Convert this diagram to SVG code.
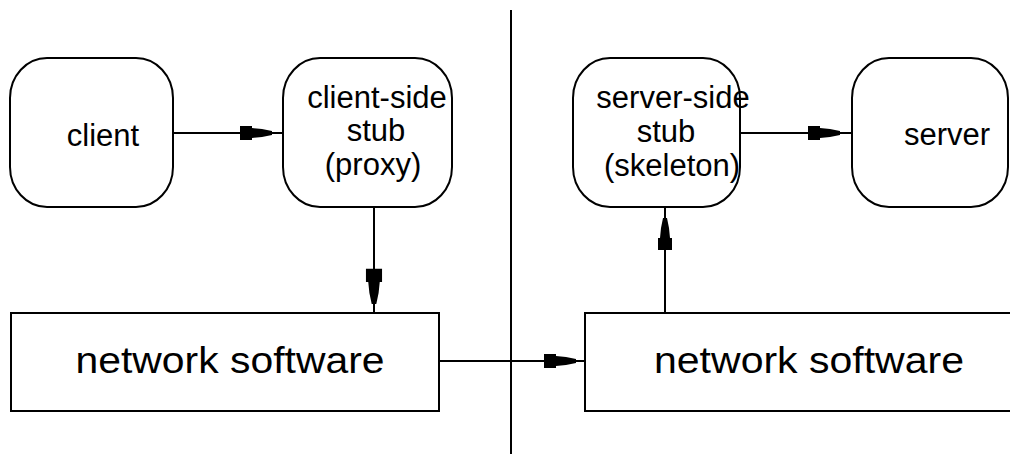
<svg xmlns="http://www.w3.org/2000/svg" xmlns:xlink="http://www.w3.org/1999/xlink" width="1010" height="454" viewBox="0 0 1010 454">
  <style>
    .box { fill: #fff; stroke: #000; stroke-width: 2; }
    .line { stroke: #000; stroke-width: 2; fill: none; }
    .head { fill: #000; stroke: none; }
    .lbl { font-family: "Liberation Sans", Arial, sans-serif; font-size: 31px; fill: #000; text-anchor: middle; }
    .big { font-family: "Liberation Sans", Arial, sans-serif; font-size: 37px; fill: #000; text-anchor: middle; }
  </style>
  <defs>
    <!-- stepped, tapering arrowhead, tip at origin pointing +x -->
    <path id="ah" class="head" d="M-32,-7 L-20,-7 L-20,-5 L-10,-4 L0,-2 L0,2 L-10,4 L-20,5 L-20,7 L-32,7 Z"/>
  </defs>
  <rect width="1010" height="454" fill="#fff"/>

  <!-- divider between client and server machines -->
  <line class="line" x1="511" y1="10" x2="511" y2="454"/>

  <g id="client">
    <rect class="box" x="10" y="58" width="163" height="149" rx="37" ry="40"/>
    <text class="lbl" x="103" y="146">client</text>
  </g>

  <g id="client-stub">
    <rect class="box" x="283" y="58" width="169" height="149" rx="37" ry="40"/>
    <text class="lbl" x="377" y="108">client-side</text>
    <text class="lbl" x="376" y="141">stub</text>
    <text class="lbl" x="373" y="175">(proxy)</text>
  </g>

  <g id="server-stub">
    <rect class="box" x="573" y="58" width="167" height="149" rx="37" ry="40"/>
    <text class="lbl" x="673" y="108">server-side</text>
    <text class="lbl" x="666" y="142">stub</text>
    <text class="lbl" x="672" y="176">(skeleton)</text>
  </g>

  <g id="server">
    <rect class="box" x="852" y="58" width="156" height="149" rx="37" ry="40"/>
    <text class="lbl" x="947" y="145">server</text>
  </g>

  <g id="net-left">
    <rect class="box" x="11" y="313" width="428" height="98"/>
    <text class="big" x="230" y="373" textLength="309" lengthAdjust="spacingAndGlyphs">network software</text>
  </g>

  <g id="net-right">
    <rect class="box" x="585" y="313" width="440" height="98"/>
    <text class="big" x="809" y="373" textLength="310" lengthAdjust="spacingAndGlyphs">network software</text>
  </g>

  <g id="connectors">
    <!-- client -> client-side stub -->
    <line class="line" x1="173" y1="133" x2="283" y2="133"/>
    <use xlink:href="#ah" transform="translate(272,133)"/>
    <!-- client-side stub -> network software -->
    <line class="line" x1="374" y1="207" x2="374" y2="313"/>
    <use xlink:href="#ah" transform="translate(374,304) rotate(90) scale(1.1,1.15)"/>
    <!-- network software -> network software -->
    <line class="line" x1="439" y1="361" x2="585" y2="361"/>
    <use xlink:href="#ah" transform="translate(576,361)"/>
    <!-- network software -> server-side stub -->
    <line class="line" x1="665" y1="313" x2="665" y2="207"/>
    <use xlink:href="#ah" transform="translate(665,218) rotate(-90)"/>
    <!-- server-side stub -> server -->
    <line class="line" x1="740" y1="133" x2="852" y2="133"/>
    <use xlink:href="#ah" transform="translate(840,133)"/>
  </g>
</svg>
